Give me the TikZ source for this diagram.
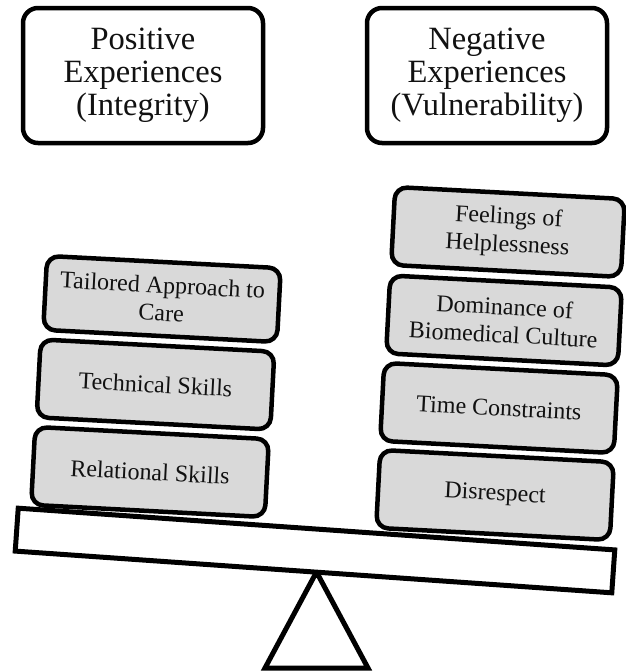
\documentclass[tikz,border=0pt]{standalone}
\usepackage{fontspec}
\setmainfont{Liberation Serif}
\newfontfamily\tnrfont{Liberation Serif}
\definecolor{boxgray}{HTML}{D9D9D9}
\definecolor{inkc}{HTML}{111111}
\tikzset{
  stackbox/.style={draw=black, fill=boxgray, line width=4.5pt, rounded corners=12pt,
    minimum width=234pt, minimum height=78pt, inner sep=0pt, align=center,
    text=inkc, font=\tnrfont\fontsize{24}{28}\selectfont, rotate=-3},
  headbox/.style={draw=black, fill=white, line width=4.5pt, rounded corners=15pt,
    minimum width=240pt, minimum height=135pt, inner sep=0pt, align=center,
    text=inkc, font=\tnrfont\fontsize{32.5}{33}\selectfont},
  beambox/.style={draw=black, fill=white, line width=5pt, minimum width=598pt,
    minimum height=43pt, inner sep=0pt, rotate=-4},
  fulcrum/.style={draw=black, fill=white, line width=5pt, line join=miter}
}
\begin{document}
\begin{tikzpicture}[x=1pt,y=-1pt]
\useasboundingbox (0,0) rectangle (625,672);
% header boxes
\node[headbox] (pos) at (143,75.5) {Positive\\Experiences\\(Integrity)};
\node[headbox] (neg) at (487,75.5) {Negative\\Experiences\\(Vulnerability)};
% fulcrum
\coordinate (apex) at (316.5,572);
\coordinate (bl) at (265,668);
\coordinate (br) at (368,668);
\draw[fulcrum] (apex) -- (bl) -- (br) -- cycle;
% beam
\node[beambox] (beam) at (315,550.5) {};
% left stack
\node[stackbox, minimum height=74pt] (tail) at (162,299) {Tailored Approach to\\Care};
\node[stackbox] (tech) at (155.5,384.5) {Technical Skills};
\node[stackbox] (rel) at (150,472) {Relational Skills};
% right stack
\node[stackbox, minimum width=230pt] (feel) at (508,232) {Feelings of\\Helplessness};
\node[stackbox, minimum width=232pt] (dom) at (504,320.5) {Dominance of\\Biomedical Culture};
\node[stackbox, minimum width=234pt] (time) at (499,408) {Time Constraints};
\node[stackbox, minimum width=234pt] (dis) at (495,495) {Disrespect};
\end{tikzpicture}
\end{document}
